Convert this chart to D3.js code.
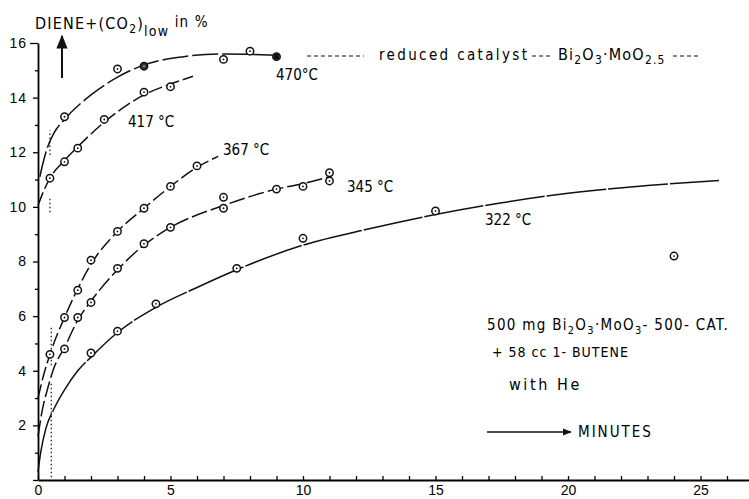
<!DOCTYPE html>
<html>
<head>
<meta charset="utf-8">
<script src="https://cdn.jsdelivr.net/npm/d3@7"></script>
<style>
  body { margin: 0; background: #fff; }
  svg { display: block; font-family: "DejaVu Sans Condensed", "Liberation Sans Narrow", sans-serif; }
</style>
</head>
<body>
<div id="chart"></div>
<script>
// measured points [minutes, %]
const pts470 = [[1, 13.3], [3, 15.05], [4, 15.15], [7, 15.4], [8, 15.7], [9, 15.5]];
const pts417 = [[0.45, 11.05], [1, 11.65], [1.5, 12.15], [2.5, 13.2], [4, 14.2], [5, 14.4]];
const pts367 = [[0.45, 4.6], [1, 5.95], [1.5, 6.95], [2, 8.05], [3, 9.1], [4, 9.95], [5, 10.75], [6, 11.5]];
const pts345 = [[1, 4.8], [1.5, 5.95], [2, 6.5], [3, 7.75], [4, 8.65], [5, 9.25], [7, 9.95], [7, 10.35],
                [9, 10.65], [10, 10.75], [11, 11.25], [11, 10.95]];
const pts322 = [[2, 4.65], [3, 5.45], [4.45, 6.45], [7.5, 7.75], [10, 8.85], [15, 9.85], [24, 8.2]];

// hand drawn curves
const fit470 = [[0.07, 11.1], [0.15, 11.45], [0.33, 12.1], [0.6, 12.7], [1, 13.2], [2, 14.1], [3, 14.75],
                [4, 15.2], [5.5, 15.5], [7, 15.6], [9, 15.55]];
const fit417 = [[0, 10.05], [0.2, 10.55], [0.45, 11.05], [1, 11.7], [1.5, 12.2], [2.5, 13.1], [4, 14.1],
                [5, 14.5], [5.85, 14.78]];
const fit367 = [[0, 3.0], [0.2, 3.8], [0.45, 4.6], [1, 5.95], [1.5, 7.0], [2, 7.9], [3, 9.1], [4, 9.95],
                [5, 10.75], [6, 11.45], [6.8, 11.85]];
const fit345 = [[0, 1.6], [0.15, 2.5], [0.35, 3.3], [0.6, 4.1], [1, 4.85], [1.5, 5.85], [2, 6.55], [3, 7.7],
                [4, 8.6], [5, 9.25], [7, 10.05], [9, 10.65], [10, 10.85], [11, 11.1]];
const fit322 = [[0, 0.3], [0.1, 1.0], [0.3, 1.9], [0.6, 2.6], [1, 3.3], [1.5, 4.0], [2, 4.5], [3, 5.4],
                [4.5, 6.35], [6, 7.05], [7.5, 7.7], [10, 8.6], [12.5, 9.2], [15, 9.72], [17.5, 10.15],
                [20, 10.5], [23, 10.78], [25.7, 10.97]];

// dotted guide marks: [minutes, from %, to %]
const guides = [[0.45, 11.9, 12.8], [0.45, 9.8, 10.3], [0.5, 4.2, 5.6], [0.5, 0.1, 3.6]];

const xTicks = d3.range(0, 27);
const yTicks = d3.range(0, 17);

const W = 749, H = 499;

const svg = d3.select("#chart").append("svg")
    .attr("width", W)
    .attr("height", H);

const x = d3.scaleLinear().domain([0, 26.83]).range([38, 749]);
const y = d3.scaleLinear().domain([0, 16]).range([480, 43]);

// axes
const xAxis = svg.append("g")
    .attr("transform", `translate(0,${y(0)})`)
    .call(d3.axisBottom(x).tickValues(xTicks).tickSize(-4).tickSizeOuter(0)
        .tickFormat(d => d % 5 === 0 ? d : ""));
xAxis.select(".domain").attr("stroke-width", 1.8);
xAxis.selectAll(".tick line").attr("stroke-width", 1.3);
xAxis.selectAll("text")
    .attr("y", 5)
    .attr("font-size", 14)
    .attr("font-family", null);

const yAxis = svg.append("g")
    .attr("transform", `translate(${x(0)},0)`)
    .call(d3.axisLeft(y).tickValues(yTicks).tickSizeOuter(0)
        .tickFormat(d => d % 2 === 0 && d > 0 ? d : ""));
yAxis.select(".domain").attr("stroke-width", 1.8);
yAxis.selectAll(".tick line")
    .attr("x2", d => d === 16 ? -8 : (d % 2 === 0 ? -5 : -3))
    .attr("stroke-width", 1.3);
yAxis.selectAll("text")
    .attr("x", -11)
    .attr("font-size", 14)
    .attr("letter-spacing", 1)
    .attr("font-family", null);

// curves
const line = d3.line()
    .x(d => x(d[0]))
    .y(d => y(d[1]))
    .curve(d3.curveMonotoneX);

const curves = [
    { pts: fit470, dash: "26,4" },
    { pts: fit417, dash: "14,4" },
    { pts: fit367, dash: "14,4" },
    { pts: fit345, dash: "16,4" },
    { pts: fit322, dash: "60,2" }
];

svg.selectAll(".fit")
    .data(curves)
    .enter()
    .append("path")
    .attr("class", "fit")
    .attr("d", d => line(d.pts))
    .attr("fill", "none")
    .attr("stroke", "#111")
    .attr("stroke-width", 1.5)
    .attr("stroke-dasharray", d => d.dash);

// dotted guides
svg.selectAll(".guide")
    .data(guides)
    .enter()
    .append("line")
    .attr("x1", d => x(d[0]))
    .attr("x2", d => x(d[0]))
    .attr("y1", d => y(d[1]))
    .attr("y2", d => y(d[2]))
    .attr("stroke", "#111")
    .attr("stroke-width", 1.2)
    .attr("stroke-dasharray", "1.5,2.5");

// points
const allPts = [
    { name: "470", pts: pts470 },
    { name: "417", pts: pts417 },
    { name: "367", pts: pts367 },
    { name: "345", pts: pts345 },
    { name: "322", pts: pts322 }
];
const solid = { "470": [4] };

allPts.forEach(s => {
    const g = svg.append("g");
    const isSolid = d => (solid[s.name] || []).includes(d[0]);
    g.selectAll("circle.ring")
        .data(s.pts)
        .enter()
        .append("circle")
        .attr("cx", d => x(d[0]))
        .attr("cy", d => y(d[1]))
        .attr("r", 3.7)
        .attr("fill", d => isSolid(d) ? "#333" : "#fff")
        .attr("stroke", "#111")
        .attr("stroke-width", 1.5);
    g.selectAll("circle.dot")
        .data(s.pts)
        .enter()
        .append("circle")
        .attr("cx", d => x(d[0]))
        .attr("cy", d => y(d[1]))
        .attr("r", d => isSolid(d) ? 0.7 : 0.9)
        .attr("fill", d => isSolid(d) ? "#fff" : "#111");
});

// last 470 point drawn as a small solid dot
svg.append("circle")
    .attr("cx", x(pts470[5][0]))
    .attr("cy", y(pts470[5][1]))
    .attr("r", 3.2)
    .attr("fill", "#111");

// temperature labels
const labels = [
    { t: "470°C", x: 276, y: 80 },
    { t: "417 °C", x: 128, y: 127 },
    { t: "367 °C", x: 223, y: 155 },
    { t: "345 °C", x: 347, y: 192 },
    { t: "322 °C", x: 485, y: 225 }
];
svg.selectAll(".lab")
    .data(labels)
    .enter()
    .append("text")
    .attr("x", d => d.x)
    .attr("y", d => d.y)
    .attr("font-size", 15)
    .text(d => d.t);

// y title
const title = svg.append("text")
    .attr("x", 35)
    .attr("y", 29)
    .attr("font-size", 16)
    .attr("letter-spacing", 1.2);
title.append("tspan").text("DIENE+(CO");
title.append("tspan").attr("dy", 4).attr("font-size", 12).text("2");
title.append("tspan").attr("dy", -4).text(")");
title.append("tspan").attr("dy", 7).attr("font-size", 14).text("low");
title.append("tspan").attr("dy", -9).attr("font-size", 15).text(" in %");

svg.append("defs").append("marker")
    .attr("id", "arr")
    .attr("viewBox", "0 0 10 10")
    .attr("refX", 9).attr("refY", 5)
    .attr("markerWidth", 7).attr("markerHeight", 7)
    .attr("orient", "auto-start-reverse")
    .append("path")
    .attr("d", "M0,1 L10,5 L0,9 Z")
    .attr("fill", "#111");

svg.append("line")
    .attr("x1", 62).attr("x2", 62)
    .attr("y1", 78).attr("y2", 36)
    .attr("stroke", "#111")
    .attr("stroke-width", 2)
    .attr("marker-end", "url(#arr)");

// reduced catalyst note
const dashLine = (x1, x2, yy) => svg.append("line")
    .attr("x1", x1).attr("x2", x2).attr("y1", yy).attr("y2", yy)
    .attr("stroke", "#111").attr("stroke-width", 1.2)
    .attr("stroke-dasharray", "4,3");
dashLine(307, 364, 56);
dashLine(532, 553, 56);
dashLine(673, 698, 56);

svg.append("text")
    .attr("x", 379).attr("y", 60)
    .attr("font-size", 15)
    .attr("textLength", 148)
    .attr("lengthAdjust", "spacing")
    .text("reduced catalyst");

const bi = svg.append("text")
    .attr("x", 558).attr("y", 60)
    .attr("font-size", 16)
    .attr("letter-spacing", 1.2);
bi.append("tspan").text("Bi");
bi.append("tspan").attr("dy", 4).attr("font-size", 12).text("2");
bi.append("tspan").attr("dy", -4).text("O");
bi.append("tspan").attr("dy", 4).attr("font-size", 12).text("3");
bi.append("tspan").attr("dy", -4).text("·MoO");
bi.append("tspan").attr("dy", 4).attr("font-size", 12).text("2.5");

// experiment note
const n1 = svg.append("text")
    .attr("x", 487).attr("y", 330)
    .attr("font-size", 15)
    .attr("letter-spacing", 1.3);
n1.append("tspan").text("500 mg Bi");
n1.append("tspan").attr("dy", 4).attr("font-size", 11).text("2");
n1.append("tspan").attr("dy", -4).text("O");
n1.append("tspan").attr("dy", 4).attr("font-size", 11).text("3");
n1.append("tspan").attr("dy", -4).text("·MoO");
n1.append("tspan").attr("dy", 4).attr("font-size", 11).text("3");
n1.append("tspan").attr("dy", -4).text("- 500- CAT.");

svg.append("text")
    .attr("x", 492).attr("y", 357)
    .attr("font-size", 14)
    .attr("letter-spacing", 1)
    .text("+ 58 cc 1- BUTENE");

svg.append("text")
    .attr("x", 509).attr("y", 390)
    .attr("font-size", 16)
    .attr("letter-spacing", 2.6)
    .text("with He");

svg.append("line")
    .attr("x1", 487).attr("x2", 571)
    .attr("y1", 432).attr("y2", 432)
    .attr("stroke", "#111")
    .attr("stroke-width", 1.3)
    .attr("marker-end", "url(#arr)");

svg.append("text")
    .attr("x", 578).attr("y", 437)
    .attr("font-size", 15)
    .attr("letter-spacing", 2)
    .text("MINUTES");
</script>
</body>
</html>
